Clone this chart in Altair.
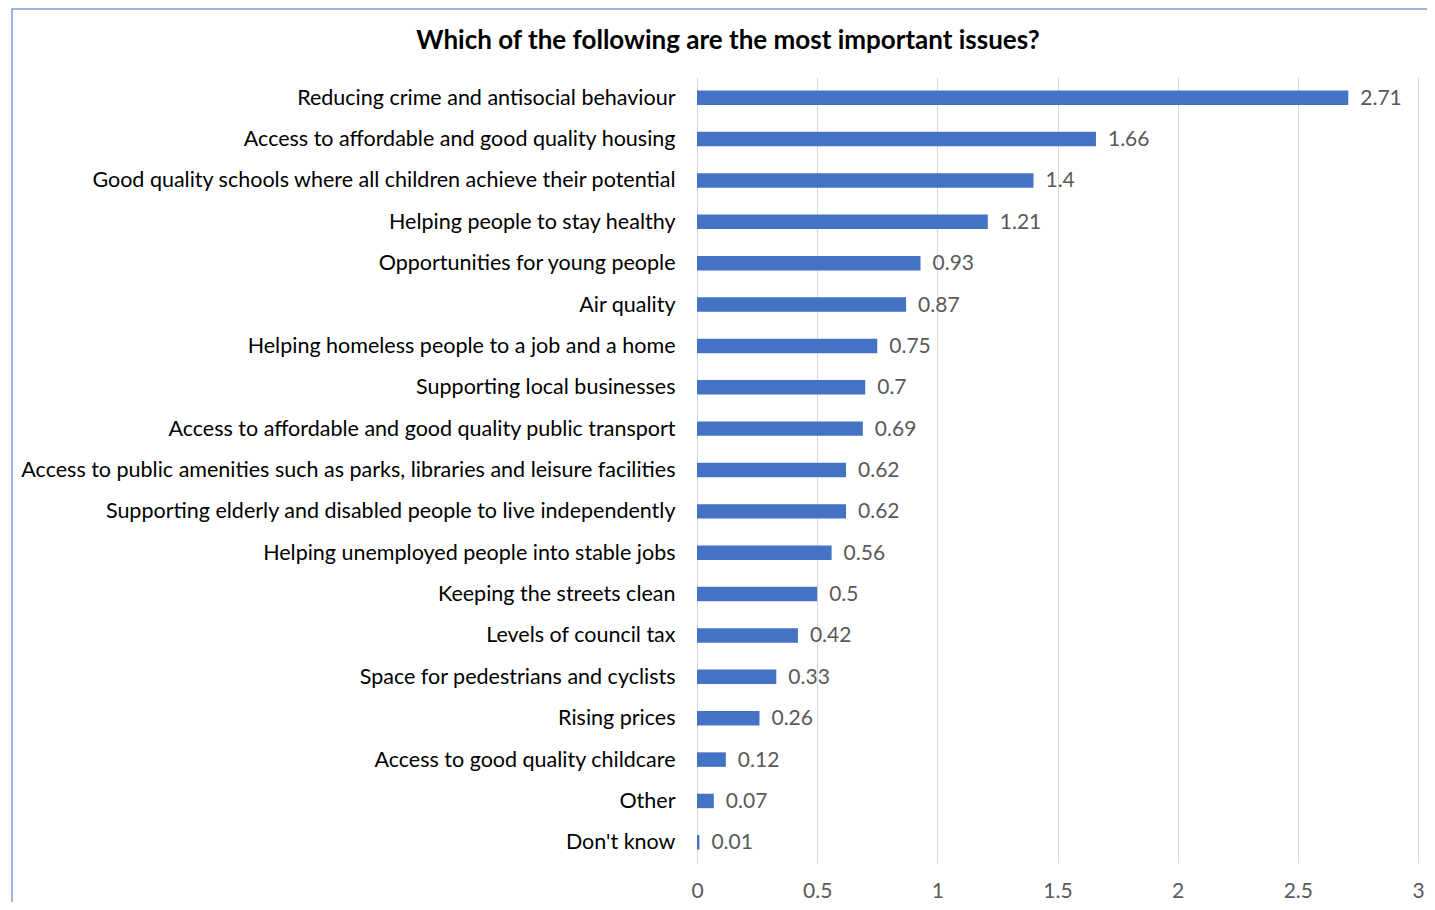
import altair as alt
import pandas as pd

categories = [
    "Reducing crime and antisocial behaviour",
    "Access to affordable and good quality housing",
    "Good quality schools where all children achieve their potential",
    "Helping people to stay healthy",
    "Opportunities for young people",
    "Air quality",
    "Helping homeless people to a job and a home",
    "Supporting local businesses",
    "Access to affordable and good quality public transport",
    "Access to public amenities such as parks, libraries and leisure facilities",
    "Supporting elderly and disabled people to live independently",
    "Helping unemployed people into stable jobs",
    "Keeping the streets clean",
    "Levels of council tax",
    "Space for pedestrians and cyclists",
    "Rising prices",
    "Access to good quality childcare",
    "Other",
    "Don't know",
]
values = [2.71, 1.66, 1.4, 1.21, 0.93, 0.87, 0.75, 0.7, 0.69, 0.62, 0.62,
          0.56, 0.5, 0.42, 0.33, 0.26, 0.12, 0.07, 0.01]
x_ticks = [0, 0.5, 1, 1.5, 2, 2.5, 3]
title_text = "Which of the following are the most important issues?"

df = pd.DataFrame({"issue": categories, "value": values})

FONT = "Lato"
W, H = 721, 786
PAD = {"left": 689, "top": 69, "right": 9, "bottom": 39}

y_enc = alt.Y("issue:N", sort=categories, title=None,
              scale=alt.Scale(paddingInner=0.65, paddingOuter=0.325),
              axis=alt.Axis(labelFont=FONT, labelFontSize=21.5, labelColor="#000000",
                            labelLimit=800, labelPadding=22, labelOffset=1,
                            ticks=False, domain=False, grid=False))
x_enc = alt.X("value:Q", title=None,
              scale=alt.Scale(domain=[0, 3], nice=False),
              axis=alt.Axis(values=x_ticks, format="~g", labelFont=FONT,
                            labelFontSize=21, labelColor="#595959",
                            labelPadding=17, labelFlush=False, ticks=False,
                            domain=False, grid=True, gridColor="#D9D9D9",
                            gridWidth=1))

bars = alt.Chart(df).mark_bar(color="#4472C4").encode(x=x_enc, y=y_enc)
labels = alt.Chart(df).mark_text(align="left", baseline="middle", dx=12, dy=1,
                                 font=FONT, fontSize=21, color="#595959").encode(
    x="value:Q", y=alt.Y("issue:N", sort=categories), text=alt.Text("value:Q"))

one = pd.DataFrame({"t": [title_text]})
border = alt.Chart(one).mark_rect(
    filled=False, stroke="#7E9CD4", strokeWidth=1.5).encode(
    x=alt.value(-685), x2=alt.value(W + PAD["right"] + 6),
    y=alt.value(-68), y2=alt.value(H + PAD["bottom"] + 6))
title = alt.Chart(one).mark_text(
    font=FONT, fontSize=26, fontWeight="bold", color="#000000",
    align="center", baseline="middle").encode(
    x=alt.value(31), y=alt.value(-36), text="t:N")

chart = alt.layer(border, bars, labels, title).properties(
    width=W, height=H,
    autosize=alt.AutoSizeParams(type="none"),
    padding=PAD,
).configure_view(stroke=None)

chart.save("out.html", embed_options={"renderer": "svg", "actions": False})
